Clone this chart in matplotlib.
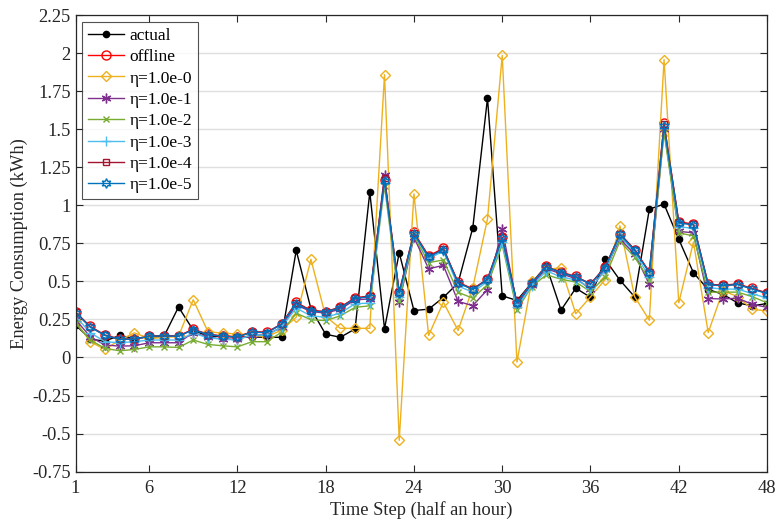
import numpy as np
import matplotlib
matplotlib.use('Agg')
import matplotlib.pyplot as plt

plt.rcParams['font.family'] = ['Liberation Serif', 'DejaVu Serif']

steps = np.arange(1, 49)

actual = [0.215, 0.12, 0.108, 0.145, 0.126, 0.135, 0.137, 0.332, 0.18, 0.14,
          0.14, 0.135, 0.135, 0.133, 0.133, 0.705, 0.32, 0.153, 0.133, 0.188,
          1.088, 0.189, 0.689, 0.309, 0.318, 0.395, 0.49, 0.853, 1.706, 0.406,
          0.375, 0.49, 0.602, 0.312, 0.456, 0.396, 0.645, 0.509, 0.399, 0.976,
          1.009, 0.778, 0.557, 0.447, 0.416, 0.359, 0.34, 0.355]

offline = [0.30, 0.204, 0.148, 0.122, 0.122, 0.142, 0.144, 0.142, 0.186, 0.153,
           0.142, 0.137, 0.17, 0.166, 0.221, 0.362, 0.31, 0.302, 0.332, 0.392,
           0.405, 1.17, 0.43, 0.823, 0.668, 0.718, 0.495, 0.451, 0.516, 0.792,
           0.362, 0.493, 0.60, 0.562, 0.533, 0.485, 0.596, 0.815, 0.71, 0.563,
           1.54, 0.892, 0.877, 0.482, 0.476, 0.484, 0.454, 0.425]

eta_0 = [0.237, 0.104, 0.053, 0.115, 0.162, 0.126, 0.13, 0.14, 0.38, 0.17,
         0.16, 0.155, 0.148, 0.137, 0.18, 0.265, 0.646, 0.27, 0.192, 0.192,
         0.192, 1.86, -0.545, 1.077, 0.145, 0.364, 0.178, 0.46, 0.912, 1.987,
         -0.03, 0.50, 0.58, 0.59, 0.288, 0.399, 0.513, 0.866, 0.40, 0.245,
         1.96, 0.36, 0.76, 0.164, 0.44, 0.40, 0.316, 0.307]

eta_1 = [0.25, 0.137, 0.082, 0.075, 0.077, 0.097, 0.097, 0.097, 0.164, 0.133,
         0.122, 0.12, 0.148, 0.148, 0.20, 0.345, 0.303, 0.292, 0.318, 0.38,
         0.385, 1.20, 0.364, 0.79, 0.584, 0.606, 0.369, 0.341, 0.447, 0.847,
         0.345, 0.48, 0.585, 0.55, 0.52, 0.45, 0.58, 0.78, 0.68, 0.482,
         1.50, 0.83, 0.82, 0.388, 0.385, 0.39, 0.35, 0.33]

eta_2 = [0.225, 0.115, 0.06, 0.044, 0.053, 0.07, 0.07, 0.066, 0.115, 0.086,
         0.077, 0.07, 0.104, 0.104, 0.166, 0.292, 0.248, 0.243, 0.274, 0.33,
         0.34, 1.13, 0.37, 0.80, 0.624, 0.642, 0.429, 0.39, 0.48, 0.74,
         0.312, 0.467, 0.544, 0.515, 0.496, 0.434, 0.53, 0.765, 0.66, 0.51,
         1.48, 0.82, 0.80, 0.43, 0.43, 0.43, 0.40, 0.36]

eta_3 = [0.27, 0.164, 0.104, 0.097, 0.104, 0.115, 0.115, 0.115, 0.16, 0.13,
         0.12, 0.115, 0.15, 0.145, 0.20, 0.325, 0.274, 0.265, 0.292, 0.354,
         0.358, 1.15, 0.40, 0.81, 0.65, 0.70, 0.47, 0.43, 0.50, 0.76,
         0.33, 0.47, 0.57, 0.53, 0.51, 0.46, 0.57, 0.80, 0.69, 0.53,
         1.52, 0.86, 0.85, 0.46, 0.45, 0.45, 0.42, 0.39]

eta_4 = [0.298, 0.202, 0.146, 0.12, 0.12, 0.14, 0.142, 0.14, 0.184, 0.151,
         0.14, 0.135, 0.168, 0.164, 0.219, 0.36, 0.308, 0.30, 0.33, 0.39,
         0.403, 1.18, 0.428, 0.82, 0.665, 0.715, 0.493, 0.449, 0.514, 0.79,
         0.36, 0.491, 0.598, 0.56, 0.531, 0.483, 0.594, 0.812, 0.708, 0.561,
         1.535, 0.89, 0.875, 0.48, 0.474, 0.482, 0.452, 0.423]

eta_5 = [0.295, 0.20, 0.145, 0.12, 0.12, 0.14, 0.142, 0.14, 0.183, 0.15,
         0.14, 0.135, 0.167, 0.163, 0.218, 0.355, 0.306, 0.298, 0.328, 0.388,
         0.40, 1.16, 0.425, 0.815, 0.66, 0.71, 0.49, 0.447, 0.512, 0.785,
         0.357, 0.49, 0.596, 0.558, 0.53, 0.482, 0.592, 0.81, 0.705, 0.558,
         1.52, 0.885, 0.872, 0.478, 0.472, 0.48, 0.45, 0.42]

xticks = [1, 6, 12, 18, 24, 30, 36, 42, 48]
yticks = np.arange(-0.75, 2.26, 0.25)
ytick_labels = ['-0.75', '-0.5', '-0.25', '0', '0.25', '0.5', '0.75', '1',
                '1.25', '1.5', '1.75', '2', '2.25']

# series styles (MATLAB default colour order)
styles = [
    ('actual', actual, dict(color='black', marker='o', ms=4.5, mfc='black')),
    ('offline', offline, dict(color='#FF0000', marker='o', ms=6.5, mfc='none')),
    ('η=1.0e-0', eta_0, dict(color='#EDB120', marker='D', ms=5.5, mfc='none')),
    ('η=1.0e-1', eta_1, dict(color='#7E2F8E', marker=(6, 2, 0), ms=7, mfc='none')),
    ('η=1.0e-2', eta_2, dict(color='#77AC30', marker='x', ms=5, mfc='none')),
    ('η=1.0e-3', eta_3, dict(color='#4DBEEE', marker='+', ms=7, mfc='none')),
    ('η=1.0e-4', eta_4, dict(color='#A2142F', marker='s', ms=5, mfc='none')),
    ('η=1.0e-5', eta_5, dict(color='#0072BD', marker=(6, 1, 0), ms=7, mfc='none')),
]

fig = plt.figure(figsize=(7.77, 5.25), dpi=100)
ax = fig.add_axes([0.0972, 0.1019, 0.890, 0.8686])

for label, vals, st in styles:
    ax.plot(steps, vals, linewidth=1.0, markeredgewidth=1.0, label=label, **st)

ax.set_xlim(1, 48)
ax.set_ylim(-0.75, 2.25)
ax.set_xticks(xticks)
ax.set_yticks(yticks)
ax.set_yticklabels(ytick_labels)
ax.yaxis.grid(True, color='#DFDFDF', linewidth=1.0)
ax.set_axisbelow(True)

ax.tick_params(direction='in', top=True, right=True, labelsize=13.3,
               colors='#262626', length=5, width=0.8)
ax.tick_params(axis='x', pad=6)
for sp in ax.spines.values():
    sp.set_color('#262626')
    sp.set_linewidth(0.9)

ax.set_xlabel('Time Step (half an hour)', fontsize=13.3, color='#262626', labelpad=3)
ax.set_ylabel('Energy Consumption (kWh)', fontsize=13.3, color='#262626', labelpad=3)

leg = ax.legend(loc='upper left', fontsize=12.5, frameon=True, fancybox=False,
                handlelength=2.1, handletextpad=0.3, labelspacing=0.3,
                borderpad=0.35, borderaxespad=0.35)
leg.get_frame().set_edgecolor('#262626')
leg.get_frame().set_linewidth(0.8)

fig.savefig('out.png', dpi=100, facecolor='white')
